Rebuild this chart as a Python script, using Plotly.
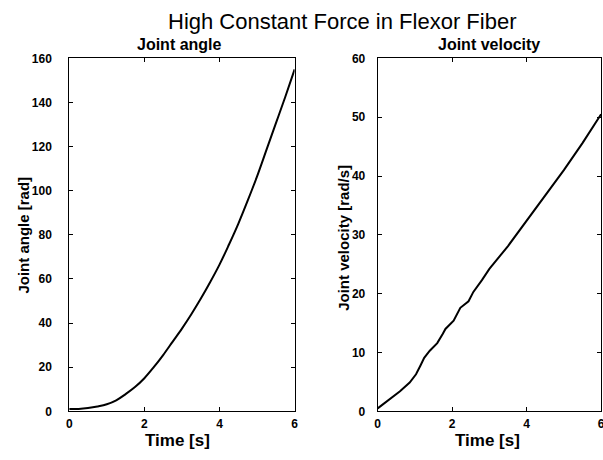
import plotly.graph_objects as go

# Joint angle data (time [s], angle [rad])
t_angle = [0, 0.25, 0.5, 0.75, 1.0, 1.25, 1.5, 1.75, 2.0, 2.25, 2.5, 2.75, 3.0,
           3.25, 3.5, 3.75, 4.0, 4.25, 4.5, 4.75, 5.0, 5.25, 5.5, 5.75, 6.0]
angle = [1.0, 1.1, 1.5, 2.2, 3.2, 5.0, 7.8, 11.0, 15.0, 20.0, 25.5, 31.5, 37.5,
         44.0, 51.0, 58.5, 66.5, 75.5, 85.0, 95.5, 106.5, 118.5, 130.5, 142.5, 155.0]

# Joint velocity data (time [s], velocity [rad/s])
t_vel = [0, 0.3, 0.6, 0.86, 1.03, 1.15, 1.25, 1.4, 1.6, 1.75, 1.82, 2.04, 2.15,
         2.22, 2.44, 2.57, 2.8, 3.0, 3.5, 4.0, 4.5, 5.0, 5.5, 6.0]
velocity = [0.5, 2.0, 3.4, 4.9, 6.3, 7.8, 9.1, 10.3, 11.6, 13.2, 14.0, 15.4, 16.6,
            17.6, 18.7, 20.3, 22.3, 24.2, 28.1, 32.4, 36.6, 41.0, 45.6, 50.5]

x_ticks = [0, 2, 4, 6]
angle_ticks = [0, 20, 40, 60, 80, 100, 120, 140, 160]
vel_ticks = [0, 10, 20, 30, 40, 50, 60]

W, H = 612, 460
FONT = "Liberation Sans"

fig = go.Figure()
fig.add_trace(go.Scatter(x=t_angle, y=angle, mode="lines",
                         line=dict(color="black", width=2, shape="spline"),
                         xaxis="x", yaxis="y", showlegend=False))
fig.add_trace(go.Scatter(x=t_vel, y=velocity, mode="lines",
                         line=dict(color="black", width=2),
                         xaxis="x2", yaxis="y2", showlegend=False))

def px(v):
    return v / W

def py(v):
    return 1 - v / H

tickfont = dict(family=FONT, size=12, color="black", weight="bold")
axis_common = dict(showline=True, linecolor="black", linewidth=1, mirror="ticks",
                   ticks="inside", ticklen=4, tickcolor="black", tickwidth=1,
                   showgrid=False, zeroline=False, tickfont=tickfont)

fig.update_layout(
    width=W, height=H,
    margin=dict(l=0, r=0, t=0, b=0),
    paper_bgcolor="white", plot_bgcolor="white",
    xaxis=dict(domain=[px(67), px(295)], range=[0, 6], tickvals=x_ticks,
               anchor="y", ticklabelstandoff=1, **axis_common),
    yaxis=dict(domain=[py(417), py(53)], range=[0, 160], tickvals=angle_ticks,
               anchor="x", ticklabelstandoff=14, **axis_common),
    xaxis2=dict(domain=[px(379), px(605)], range=[0, 6], tickvals=x_ticks,
                anchor="y2", ticklabelstandoff=1, **axis_common),
    yaxis2=dict(domain=[py(417), py(53)], range=[0, 60], tickvals=vel_ticks,
                anchor="x2", ticklabelstandoff=9, **axis_common),
)

annos = [
    dict(text="High Constant Force in Flexor Fiber", x=px(343), y=py(15),
         font=dict(family=FONT, size=22, color="black")),
    dict(text="Joint angle", x=px(179), y=py(39),
         font=dict(family=FONT, size=16, color="black", weight="bold")),
    dict(text="Joint velocity", x=px(492), y=py(39),
         font=dict(family=FONT, size=16, color="black", weight="bold")),
    dict(text="Time [s]", x=px(177), y=py(447),
         font=dict(family=FONT, size=17, color="black", weight="bold")),
    dict(text="Time [s]", x=px(490), y=py(447),
         font=dict(family=FONT, size=17, color="black", weight="bold")),
    dict(text="Joint angle [rad]", x=px(21), y=py(235), textangle=-90,
         font=dict(family=FONT, size=15, color="black", weight="bold")),
    dict(text="Joint velocity [rad/s]", x=px(345), y=py(238), textangle=-90,
         font=dict(family=FONT, size=15, color="black", weight="bold")),
]
for a in annos:
    a.update(xref="paper", yref="paper", showarrow=False,
             xanchor="center", yanchor="middle")
    fig.add_annotation(**a)

fig.write_html("out.html",
               post_script="document.body.style.overflow='hidden';"
                           "document.documentElement.style.overflow='hidden';")
